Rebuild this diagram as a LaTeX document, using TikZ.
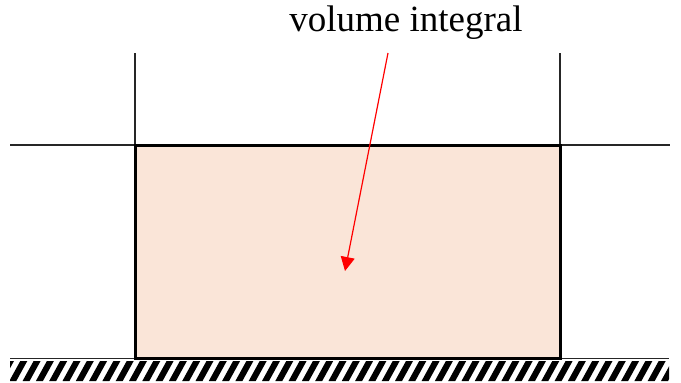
\documentclass[tikz,border=0pt]{standalone}
\usepackage{fontspec}
\setmainfont{Liberation Serif}
\definecolor{peach}{RGB}{250,229,216}
\tikzset{
  thinline/.style={line width=0.6pt, black!85},
  boxline/.style={line width=1.5pt, black},
  ptr/.style={red, line width=0.6pt, -{Triangle[length=7pt, width=7pt]}},
}
\usetikzlibrary{arrows.meta}
\begin{document}
\begin{tikzpicture}[x=0.5pt, y=-0.5pt]
  \useasboundingbox (0,0) rectangle (681,382);

  % ground with hatching
  \begin{scope}
    \clip (10,361) rectangle (669,381);
    \foreach \x in {-4,9.3,...,680}
      \fill (\x,381) -- ++(7,0) -- ++(11,-20) -- ++(-7,0) -- cycle;
  \end{scope}
  \draw[thinline, line width=0.8pt] (10,358.5) -- (669,358.5);

  % guide lines
  \draw[thinline] (135,53) -- (135,145);
  \draw[thinline] (560,53) -- (560,145);
  \draw[thinline] (10,145) -- (135,145);
  \draw[thinline] (560,145) -- (670,145);

  % the volume
  \draw[boxline, fill=peach] (135,145) rectangle (560,358);

  % label and pointer
  \node[font=\fontsize{18.5}{22}\selectfont, inner sep=0pt] (label) at (406,23) {volume integral};
  \coordinate (tail) at (388,53);
  \coordinate (tip) at (345,271);
  \draw[ptr] (tail) -- (tip);
\end{tikzpicture}
\end{document}
